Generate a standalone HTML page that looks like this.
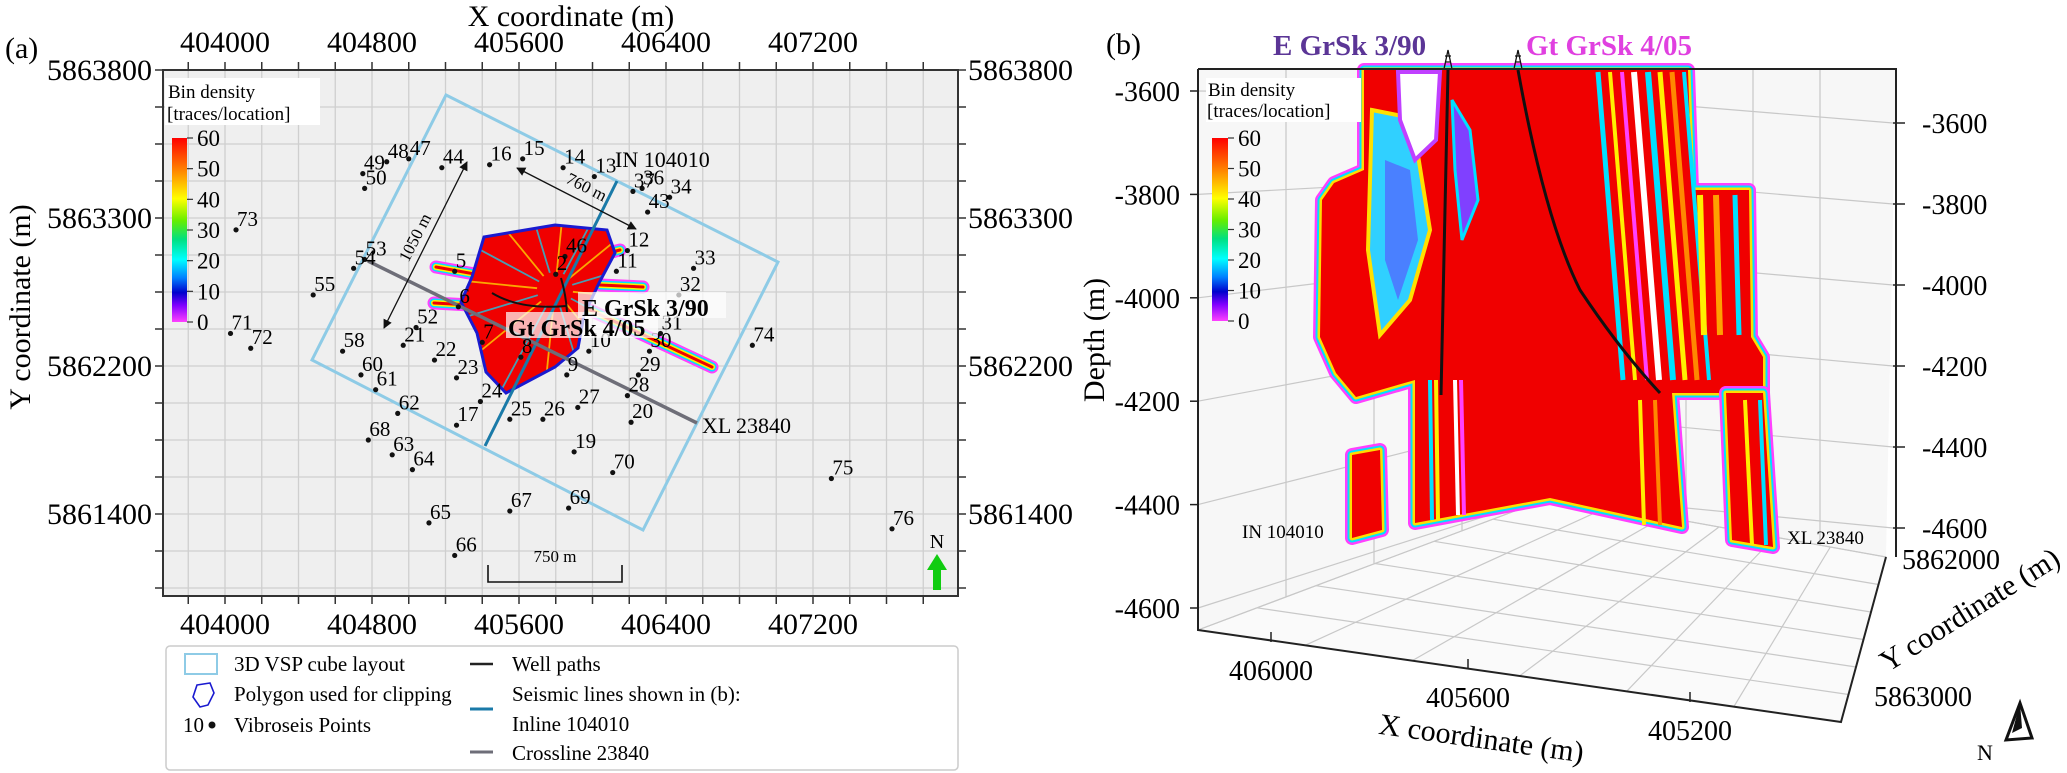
<!DOCTYPE html>
<html><head><meta charset="utf-8"><style>
html,body{margin:0;padding:0;background:#fff;}
svg{display:block;font-family:"Liberation Serif",serif;}
</style></head><body>
<svg id="fig" width="2067" height="773" viewBox="0 0 2067 773" xmlns="http://www.w3.org/2000/svg">
<defs>
<linearGradient id="cbar" x1="0" y1="0" x2="0" y2="1">
<stop offset="0" stop-color="#ff0000"/><stop offset="0.17" stop-color="#ff8000"/><stop offset="0.33" stop-color="#ffff00"/><stop offset="0.45" stop-color="#66ee00"/><stop offset="0.55" stop-color="#00e080"/><stop offset="0.66" stop-color="#00ffff"/><stop offset="0.76" stop-color="#0080ff"/><stop offset="0.84" stop-color="#0000cc"/><stop offset="0.91" stop-color="#8000ff"/><stop offset="1" stop-color="#ff40ff"/>
</linearGradient>
<clipPath id="clipA"><rect x="163" y="70" width="795" height="526"/></clipPath>
<clipPath id="blobClip"><polygon points="484,237 555,225 607,230 615,253 599,283 584,315 578,348 555,367 506,393 486,372 477,333 461,302 472,277"/></clipPath>
<marker id="arr" viewBox="0 0 10 10" refX="9" refY="5" markerWidth="7" markerHeight="7" orient="auto-start-reverse"><path d="M0,0 L10,5 L0,10 z" fill="#111"/></marker>
</defs>

<!-- ================= PANEL A ================= -->
<g id="panelA">
<text x="5" y="58" font-size="30">(a)</text>
<text x="571" y="26" font-size="30" text-anchor="middle">X coordinate (m)</text>
<text transform="translate(30,307) rotate(-90)" font-size="30" text-anchor="middle">Y coordinate (m)</text>
<rect x="163" y="70" width="795" height="526" fill="#efefef"/>
<g id="gridA" clip-path="url(#clipA)"></g>
<g id="ticksA"></g>
<rect x="163" y="70" width="795" height="526" fill="none" stroke="#333" stroke-width="2"/>

<g clip-path="url(#clipA)">
<polygon points="446,95 778,262 643,530 312,360" fill="none" stroke="#8ecbe6" stroke-width="3"/>
<g id="arms"></g>
<polygon points="484,237 555,225 607,230 615,253 599,283 584,315 578,348 555,367 506,393 486,372 477,333 461,302 472,277" fill="#f00000"/>
<g id="spokes" clip-path="url(#blobClip)"></g>
<polygon points="484,237 555,225 607,230 615,253 599,283 584,315 578,348 555,367 506,393 486,372 477,333 461,302 472,277" fill="none" stroke="#1a1ad0" stroke-width="3"/>
<line x1="617" y1="181" x2="485" y2="446" stroke="#1a7aa8" stroke-width="3"/>
<line x1="368" y1="261" x2="697" y2="423" stroke="#6e6e78" stroke-width="3.5"/>
<path d="M561,278 Q566,295 567,312" fill="none" stroke="#111" stroke-width="2"/>
<path d="M492,293 Q520,310 566,306" fill="none" stroke="#111" stroke-width="2"/>
<line x1="467" y1="162" x2="384" y2="328" stroke="#111" stroke-width="1.3" marker-start="url(#arr)" marker-end="url(#arr)"/>
<text transform="translate(420,240) rotate(-63)" font-size="17" text-anchor="middle">1050 m</text>
<line x1="517" y1="168" x2="636" y2="229" stroke="#111" stroke-width="1.3" marker-start="url(#arr)" marker-end="url(#arr)"/>
<text transform="translate(584,192) rotate(27)" font-size="17" text-anchor="middle">760 m</text>
<g id="pointsA"></g>
<rect x="578" y="292" width="148" height="26" fill="#fff" opacity="0.7"/>
<rect x="506" y="312" width="152" height="26" fill="#fff" opacity="0.7"/>
<text x="582" y="316" font-size="24" font-weight="bold">E GrSk 3/90</text>
<text x="508" y="336" font-size="24" font-weight="bold">Gt GrSk 4/05</text>
<text x="615" y="167" font-size="22">IN 104010</text>
<text x="702" y="433" font-size="22">XL 23840</text>
<path d="M488,565 L488,582 L622,582 L622,565" fill="none" stroke="#111" stroke-width="1.6"/>
<text x="555" y="562" font-size="17" text-anchor="middle">750 m</text>
<text x="937" y="548" font-size="20" text-anchor="middle">N</text>
<polygon points="937,554 947,570 941,570 941,590 933,590 933,570 927,570" fill="#11cc11"/>
</g>

<rect x="165" y="78" width="155" height="47" fill="#fff"/>
<text x="168" y="98" font-size="19">Bin density</text>
<text x="167" y="120" font-size="19">[traces/location]</text>
<rect x="172" y="138" width="15" height="184" fill="url(#cbar)"/>
<g id="cbarA"></g>

<g>
<rect x="166" y="646" width="792" height="124" rx="4" fill="#fff" stroke="#ccc" stroke-width="1.5"/>
<rect x="185" y="654" width="32" height="20" fill="none" stroke="#8ecbe6" stroke-width="2"/>
<text x="234" y="671" font-size="21">3D VSP cube layout</text>
<path d="M197,685 L210,683 L214,693 L208,705 L200,707 L193,697 Z" fill="none" stroke="#1a1ad0" stroke-width="1.6"/>
<text x="234" y="701" font-size="21">Polygon used for clipping</text>
<text x="183" y="732" font-size="21">10</text>
<circle cx="212" cy="725" r="3.5" fill="#111"/>
<text x="234" y="732" font-size="21">Vibroseis Points</text>
<line x1="470" y1="664" x2="493" y2="664" stroke="#222" stroke-width="2.5"/>
<text x="512" y="671" font-size="21">Well paths</text>
<text x="512" y="701" font-size="21">Seismic lines shown in (b):</text>
<line x1="470" y1="709" x2="493" y2="709" stroke="#1a7aa8" stroke-width="3"/>
<text x="512" y="731" font-size="21">Inline 104010</text>
<line x1="470" y1="752" x2="493" y2="752" stroke="#6e6e78" stroke-width="3"/>
<text x="512" y="760" font-size="21">Crossline 23840</text>
</g>
</g>

<!-- ================= PANEL B ================= -->
<g id="panelB">
<text x="1106" y="54" font-size="30">(b)</text>
<polygon points="1198,69 1896,69 1886,557 1841,722 1198,630" fill="#f7f7f7"/>
<g id="gridB" stroke="#c8c8c8" stroke-width="1.2" fill="none"></g>
<polygon points="1198,630 1552,497 1886,557 1841,722" fill="#fafafa" stroke="#bbb" stroke-width="1"/>
<g id="floorGrid" stroke="#c8c8c8" stroke-width="1.2"></g>
<g id="sections"></g>
<path d="M1448,70 L1441,395" fill="none" stroke="#111" stroke-width="3"/>
<path d="M1518,70 Q1545,220 1580,290 Q1620,350 1660,393" fill="none" stroke="#111" stroke-width="3"/>
<g stroke="#111" stroke-width="1.3" fill="none">
<path d="M1444,69 L1448,50 L1452,69 M1445,62 L1451,62 M1445,56 L1451,56"/>
<path d="M1514,69 L1518,50 L1522,69 M1515,62 L1521,62 M1515,56 L1521,56"/>
</g>
<text x="1273" y="55" font-size="29" font-weight="bold" fill="#5b3596">E GrSk 3/90</text>
<text x="1526" y="55" font-size="29" font-weight="bold" fill="#e040e0">Gt GrSk 4/05</text>
<path d="M1198,69 L1896,69 L1896,557 M1198,69 L1198,630 L1841,722 L1886,557" fill="none" stroke="#222" stroke-width="2"/>
<g id="ticksB"></g>
<text transform="translate(1104,340) rotate(-90)" font-size="30" text-anchor="middle">Depth (m)</text>
<text transform="translate(1480,748) rotate(8)" font-size="30" text-anchor="middle">X coordinate (m)</text>
<text transform="translate(1975,618) rotate(-32)" font-size="30" text-anchor="middle">Y coordinate (m)</text>
<text x="1242" y="538" font-size="19">IN 104010</text>
<text x="1787" y="544" font-size="19">XL 23840</text>
<rect x="1206" y="78" width="155" height="44" fill="#fff"/>
<text x="1208" y="96" font-size="19">Bin density</text>
<text x="1207" y="117" font-size="19">[traces/location]</text>
<rect x="1212" y="138" width="16" height="183" fill="url(#cbar)"/>
<g id="cbarB"></g>
<text x="1977" y="760" font-size="22">N</text>
<polygon points="2020,703 2006,740 2032,738" fill="#fff" stroke="#111" stroke-width="3"/>
<polygon points="2020,703 2012,733 2022,728" fill="#111"/>
</g>
</svg>
<script>
// ---------- Panel A data ----------
const pointLabels=[49,48,47,44,16,15,14,13,36,34,37,43,50,73,12,46,2,11,33,5,53,54,55,32,6,52,71,72,31,74,21,58,7,8,10,30,22,60,9,23,29,61,28,24,62,27,25,26,20,17,68,63,19,64,70,75,67,69,65,66,76];
const pointX=[404750,404880,405000,405180,405440,405620,405840,406010,406270,406420,406220,406300,404760,404060,406190,405850,405800,406130,406550,405250,404760,404700,404480,406470,405270,405040,404030,404140,406370,406870,404970,404640,405400,405610,405980,406310,405140,404740,405860,405260,406250,404820,406190,405390,404940,405920,405550,405730,406210,405260,404780,404910,405900,405020,406110,407300,405550,405870,405110,405250,407630];
const pointY=[5863450,5863490,5863500,5863470,5863480,5863500,5863470,5863440,5863400,5863370,5863390,5863320,5863400,5863260,5863190,5863170,5863110,5863120,5863130,5863120,5863160,5863130,5863040,5863040,5863000,5862930,5862910,5862860,5862910,5862870,5862870,5862850,5862880,5862830,5862850,5862850,5862820,5862770,5862770,5862760,5862770,5862720,5862700,5862680,5862640,5862660,5862620,5862620,5862610,5862600,5862550,5862500,5862510,5862450,5862440,5862420,5862310,5862320,5862270,5862160,5862250];
const xTickVals=[404000,404800,405600,406400,407200];
const xTickLabels=["404000","404800","405600","406400","407200"];
const yTickVals=[5863800,5863300,5862800,5862300];
const yTickLabels=["5863800","5863300","5862200","5861400"];
const cbarTicks=[60,50,40,30,20,10,0];
const depthTicks=[-3600,-3800,-4000,-4200,-4400,-4600];
const depthRightTicks=[-3600,-3800,-4000,-4200,-4400,-4600];
const x3dTicks=[406000,405600,405200];
const y3dTicks=[5862000,5863000];

const NS="http://www.w3.org/2000/svg";
function mk(tag,attrs,parent){const e=document.createElementNS(NS,tag);for(const k in attrs)e.setAttribute(k,attrs[k]);if(parent)parent.appendChild(e);return e;}
const sx=x=>225+(x-404000)*147/800;
const sy=y=>70+(5863800-y)*148/500;

const gA=document.getElementById('gridA'), tA=document.getElementById('ticksA');
for(let v=403800;v<=407800;v+=200){const p=sx(v);
 mk('line',{x1:p,y1:70,x2:p,y2:596,stroke:'#cfcfcf','stroke-width':1.3},gA);
 mk('line',{x1:p,y1:70,x2:p,y2:62,stroke:'#333','stroke-width':1.5},tA);
 mk('line',{x1:p,y1:596,x2:p,y2:604,stroke:'#333','stroke-width':1.5},tA);}
for(let v=5863800;v>=5862000;v-=125){const p=sy(v);
 mk('line',{x1:163,y1:p,x2:958,y2:p,stroke:'#cfcfcf','stroke-width':1.3},gA);
 mk('line',{x1:155,y1:p,x2:163,y2:p,stroke:'#333','stroke-width':1.5},tA);
 mk('line',{x1:958,y1:p,x2:966,y2:p,stroke:'#333','stroke-width':1.5},tA);}
xTickVals.forEach((v,i)=>{
 const t=mk('text',{x:sx(v),y:52,'font-size':30,'text-anchor':'middle'},tA);t.textContent=xTickLabels[i];
 
 
 const b=mk('text',{x:sx(v),y:634,'font-size':30,'text-anchor':'middle'},tA);b.textContent=xTickLabels[i];
 
 });
yTickVals.forEach((v,i)=>{
 const t=mk('text',{x:152,y:sy(v)+10,'font-size':30,'text-anchor':'end'},tA);t.textContent=yTickLabels[i];
 
 
 const r=mk('text',{x:968,y:sy(v)+10,'font-size':30},tA);r.textContent=yTickLabels[i];
 
 });

function cbar(id,x,y0,h){const g=document.getElementById(id);
 cbarTicks.forEach(v=>{const y=y0+(60-v)/60*h;
  mk('line',{x1:x,y1:y,x2:x+6,y2:y,stroke:'#333','stroke-width':1.2},g);
  const t=mk('text',{x:x+10,y:y+8,'font-size':23},g);t.textContent=v;
  
  });}
cbar('cbarA',187,138,184);cbar('cbarB',1228,138,183);

const armG=document.getElementById('arms');
[[480,275,436,267],[590,310,712,367],[600,285,643,287],[470,305,434,303],[600,255,620,250]].forEach(a=>{
 [['#ff40ff',13],['#00e0ff',9],['#ffee00',6],['#f00000',3]].forEach(s=>mk('line',{x1:a[0],y1:a[1],x2:a[2],y2:a[3],stroke:s[0],'stroke-width':s[1],'stroke-linecap':'round'},armG));});
const spG=document.getElementById('spokes');
for(let k=0;k<16;k++){const ang=k/16*Math.PI*2+0.1, r=130;
 mk('line',{x1:555+18*Math.cos(ang),y1:290+18*Math.sin(ang),x2:555+r*Math.cos(ang),y2:290+r*Math.sin(ang),stroke:k%2?'#00e0ff':'#ffee00','stroke-width':1.8,opacity:0.7},spG);}

const pG=document.getElementById('pointsA');
pointLabels.forEach((lab,i)=>{const x=sx(pointX[i]),y=sy(pointY[i]);
 const c=mk('circle',{cx:x,cy:y,r:2.6,fill:'#111'},pG);
 
 
 const t=mk('text',{x:x+1,y:y-4,'font-size':21},pG);t.textContent=lab;
 
 });

const gB=document.getElementById('gridB'), tB=document.getElementById('ticksB');
const dL=d=>91+(-3600-d)/200*103.4;
const dR=d=>123+(-3600-d)/200*81;
const dC=d=>95+(-3600-d)/200*80;
depthTicks.forEach(d=>{
 mk('line',{x1:1198,y1:dL(d),x2:1552,y2:dC(d)},gB);
 mk('line',{x1:1190,y1:dL(d),x2:1198,y2:dL(d),stroke:'#222','stroke-width':1.5},tB);
 const t=mk('text',{x:1180,y:dL(d)+10,'font-size':28,'text-anchor':'end'},tB);t.textContent=d;
 
 });
depthRightTicks.forEach(d=>{
 mk('line',{x1:1552,y1:dC(d),x2:1893,y2:dR(d)},gB);
 mk('line',{x1:1893,y1:dR(d),x2:1905,y2:dR(d),stroke:'#222','stroke-width':1.5},tB);
 const t=mk('text',{x:1922,y:dR(d)+10,'font-size':28},tB);t.textContent=d;
 
 });
mk('line',{x1:1552,y1:69,x2:1552,y2:497},gB);
for(let k=1;k<5;k++){mk('line',{x1:1198+k*88,y1:69,x2:1198+k*88,y2:630-k*33},gB);mk('line',{x1:1552+k*67,y1:69,x2:1552+k*67,y2:497+k*12},gB);}
const fG=document.getElementById('floorGrid');
for(let k=0;k<7;k++){const t=k/6;
 mk('line',{x1:1198+t*(1841-1198),y1:630+t*92,x2:1552+t*(1886-1552),y2:497+t*60},fG);
 mk('line',{x1:1198+t*(1552-1198),y1:630-t*133,x2:1841+t*(1886-1841),y2:722-t*165},fG);}
x3dTicks.forEach((v,i)=>{const x=[1271,1468,1690][i],y=[640,667,700][i];
 mk('line',{x1:x,y1:y-8,x2:x,y2:y+2,stroke:'#222','stroke-width':1.5},tB);
 const t=mk('text',{x:x,y:y+40,'font-size':28,'text-anchor':'middle'},tB);t.textContent=v;
 
 });
y3dTicks.forEach((v,i)=>{const x=[1902,1874][i],y=[559,696][i];
 const t=mk('text',{x:x,y:y+10,'font-size':28},tB);t.textContent=v;
 
 });

const sG=document.getElementById('sections');
function layered(pts){[['#ff40ff',14],['#00e0ff',9],['#ffdd00',5]].forEach(s=>mk('polygon',{points:pts,fill:'none',stroke:s[0],'stroke-width':s[1],'stroke-linejoin':'round'},sG));
 mk('polygon',{points:pts,fill:'#f00000'},sG);}
layered("1364,70 1688,70 1692,190 1749,190 1751,337 1763,357 1763,393 1672,393 1682,527 1550,498 1415,523 1415,380 1356,397 1336,373 1320,337 1322,200 1334,183 1364,170");
layered("1726,393 1763,393 1773,547 1732,540");
layered("1352,455 1380,450 1382,530 1352,538");
mk('polygon',{points:"1372,110 1412,118 1430,230 1410,300 1380,335 1368,250",fill:'#30d0ff',stroke:'#ffe000','stroke-width':4},sG);
mk('polygon',{points:"1385,160 1410,170 1418,240 1398,300 1385,260",fill:'#4a80ff'},sG);
mk('polygon',{points:"1398,72 1440,72 1436,140 1415,160 1400,120",fill:'#ffffff',stroke:'#c040ff','stroke-width':4},sG);
mk('polygon',{points:"1452,100 1470,130 1478,200 1462,240 1455,170",fill:'#8040ff',stroke:'#00e0ff','stroke-width':3},sG);
const stripes=[[1598,'#00e0ff',5],[1610,'#ffee00',4],[1622,'#ff40ff',4],[1634,'#ffffff',6],[1648,'#00e0ff',6],[1660,'#ffee00',5],[1672,'#ff8800',5],[1684,'#00e0ff',4],[1700,'#ffee00',6],[1716,'#ffa000',6],[1735,'#00e0ff',5]];
stripes.forEach(s=>{const top=s[0]>1690?195:72, bot=s[0]>1690?335:380;
 mk('line',{x1:s[0],y1:top,x2:s[0]+(s[0]>1690?4:25),y2:bot,stroke:s[1],'stroke-width':s[2]},sG);});
[[1430,380,1432,520,'#00e0ff'],[1436,380,1438,520,'#ffee00'],[1455,380,1458,515,'#ffffff'],[1461,380,1464,515,'#ff40ff'],[1640,400,1644,525,'#ffee00'],[1655,400,1660,525,'#ff8800'],[1745,400,1752,545,'#ffee00'],[1760,400,1766,545,'#00e0ff']].forEach(s=>mk('line',{x1:s[0],y1:s[1],x2:s[2],y2:s[3],stroke:s[4],'stroke-width':4},sG));
</script>
</body></html>
